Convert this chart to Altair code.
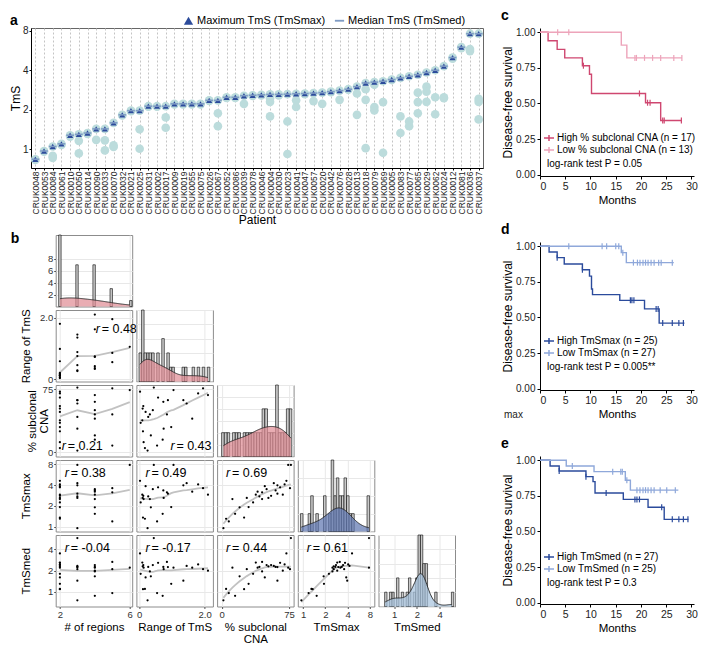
import altair as alt
import pandas as pd
import numpy as np

FONT = "Liberation Sans"

# ---------------- Panel a data ----------------
patients = ["CRUK0048", "CRUK0053", "CRUK0084", "CRUK0061", "CRUK0010", "CRUK0050", "CRUK0014",
            "CRUK0090", "CRUK0033", "CRUK0070", "CRUK0032", "CRUK0021", "CRUK0025", "CRUK0031",
            "CRUK0002", "CRUK0017", "CRUK0009", "CRUK0019", "CRUK0055", "CRUK0075", "CRUK0026",
            "CRUK0067", "CRUK0052", "CRUK0086", "CRUK0039", "CRUK0078", "CRUK0046", "CRUK0004",
            "CRUK0030", "CRUK0023", "CRUK0041", "CRUK0047", "CRUK0057", "CRUK0020", "CRUK0042",
            "CRUK0076", "CRUK0028", "CRUK0013", "CRUK0018", "CRUK0079", "CRUK0069", "CRUK0005",
            "CRUK0083", "CRUK0077", "CRUK0065", "CRUK0029", "CRUK0062", "CRUK0024", "CRUK0012",
            "CRUK0081", "CRUK0036", "CRUK0037"]
region_tms = [
    [0.84, 0.83], [0.97, 0.96], [1.05, 0.89, 0.86], [1.10, 1.08], [1.28, 1.25],
    [1.30, 1.16, 0.93], [1.33, 1.31], [1.43, 1.18], [1.43, 1.17, 0.98], [1.59, 1.07, 1.04],
    [1.83, 1.81], [1.97, 1.95], [1.97, 1.42, 1.01], [2.13, 2.11], [2.13, 2.11],
    [2.13, 1.75, 1.46], [2.22, 2.20], [2.22, 2.20], [2.22, 2.20], [2.22, 2.20],
    [2.36, 2.34], [2.36, 1.88, 1.50], [2.49, 2.46], [2.49, 2.46], [2.56, 2.22],
    [2.58, 2.55], [2.60, 2.57], [2.62, 2.45, 2.30, 1.78], [2.62, 2.57], [2.63, 1.63, 0.92],
    [2.65, 2.36, 2.10], [2.66, 2.63], [2.68, 2.33], [2.70, 2.22], [2.75, 2.72],
    [2.80, 2.38], [2.87, 2.84], [3.00, 2.66, 1.83], [3.20, 2.87, 2.38, 1.02], [3.25, 3.10, 2.10, 1.98],
    [3.30, 2.29, 0.94], [3.40, 3.37], [3.50, 1.78, 1.33], [3.60, 1.63, 1.50], [3.70, 2.70, 2.29, 1.88],
    [3.85, 3.00, 2.75, 2.30], [4.00, 2.49, 1.85], [4.30, 2.49, 2.45], [5.00, 4.90], [6.00, 5.90],
    [7.60, 5.80, 5.60], [7.60, 2.42, 2.30, 1.69]]

# ---------------- Panel b data (one row per patient) ----------------
n_regions = [3, 5, 2, 4, 2, 4, 2, 3, 2, 5, 4, 4, 2, 2, 3, 3, 2, 3, 6, 2, 2, 2, 2, 2, 3, 3, 4, 4, 4, 5]
range_tms = [0.26, 0.55, 0.12, 0.72, 0.98, 0.36, 0.05, 0.28, 0.13, 0.85, 0.74, 0.42, 0.58, 1.80, 1.45,
             1.35, 0.20, 0.45, 1.05, 0.03, 0.10, 0.11, 0.14, 0.18, 0.88, 0.75, 1.62, 2.10, 0.33, 1.95]
pct_cna = [2, 8, 25, 15, 30, 20, 35, 42, 55, 45, 60, 50, 65, 70, 58,
           62, 48, 77, 74, 72, 38, 52, 12, 5, 62, 28, 40, 68, 45, 76]
tms_max = [0.95, 1.19, 1.35, 1.53, 1.92, 1.90, 2.24, 2.73, 2.79, 3.14, 3.34, 3.48, 3.70, 4.08, 4.25,
           3.96, 3.84, 7.80, 7.80, 4.60, 2.90, 2.60, 2.50, 1.30, 3.00, 2.60, 3.20, 2.90, 2.50, 3.60]
tms_med = [0.76, 0.96, 1.09, 0.88, 1.30, 1.66, 1.80, 2.26, 2.40, 2.66, 2.26, 2.40, 2.58, 2.45, 2.33,
           1.44, 1.60, 5.80, 2.20, 3.50, 2.60, 2.30, 2.20, 1.10, 2.25, 2.10, 2.20, 2.00, 1.95, 2.10]
r_labels = {(1, 0): "0.48", (2, 0): "0.21", (2, 1): "0.43", (3, 0): "0.38", (3, 1): "0.49",
            (3, 2): "0.69", (4, 0): "-0.04", (4, 1): "-0.17", (4, 2): "0.44", (4, 3): "0.61"}

# ---------------- Panels c-e data (Kaplan-Meier steps) ----------------
c_hi_t = [0, 1.6, 3.4, 4.9, 8.4, 9.8, 10.2, 20.9, 23.9, 28.1]
c_hi_s = [1.0, 0.94, 0.88, 0.82, 0.765, 0.705, 0.57, 0.505, 0.38, 0.38]
c_hi_ct = [8.6, 19.7, 21.3, 21.8, 24.3, 24.6, 28.0]
c_hi_cs = [0.765, 0.57, 0.505, 0.505, 0.38, 0.38, 0.38]
c_lo_t = [0, 16.1, 17.2, 28.1]
c_lo_s = [1.0, 0.91, 0.82, 0.82]
c_lo_ct = [3.5, 5.7, 18.8, 19.1, 20.7, 22.3, 23.9, 26.5, 28.1]
c_lo_cs = [1.0, 1.0, 0.82, 0.82, 0.82, 0.82, 0.82, 0.82, 0.82]

d_hi_t = [0, 1.8, 3.4, 4.8, 8.4, 9.8, 10.2, 10.4, 15.8, 20.7, 23.6, 28.6]
d_hi_s = [1.0, 0.96, 0.92, 0.875, 0.835, 0.79, 0.70, 0.66, 0.62, 0.56, 0.46, 0.46]
d_hi_ct = [3.4, 8.4, 17.9, 18.2, 18.6, 23.0, 23.4, 24.3, 26.2, 27.5, 28.4]
d_hi_cs = [0.92, 0.835, 0.62, 0.62, 0.62, 0.56, 0.56, 0.46, 0.46, 0.46, 0.46]
d_lo_t = [0, 16.1, 17.1, 26.5]
d_lo_s = [1.0, 0.955, 0.885, 0.885]
d_lo_ct = [5.7, 12.3, 13.2, 15.0, 15.6, 16.4, 18.5, 19.3, 19.8, 20.4, 20.9, 21.4, 22.0, 22.6, 23.5, 24.0, 26.2]
d_lo_cs = [1.0, 1.0, 1.0, 1.0, 1.0, 0.955, 0.885, 0.885, 0.885, 0.885, 0.885, 0.885, 0.885, 0.885,
           0.885, 0.885, 0.885]

e_hi_t = [0, 2.0, 3.8, 9.1, 10.5, 10.9, 16.5, 21.4, 24.6, 29.4]
e_hi_s = [1.0, 0.96, 0.925, 0.885, 0.85, 0.77, 0.725, 0.67, 0.585, 0.585]
e_hi_ct = [3.8, 9.1, 13.1, 18.8, 19.2, 19.7, 24.1, 26.2, 27.5, 28.4, 29.3]
e_hi_cs = [0.925, 0.885, 0.77, 0.725, 0.725, 0.725, 0.67, 0.585, 0.585, 0.585, 0.585]
e_lo_t = [0, 5.2, 10.7, 16.9, 17.9, 27.4]
e_lo_s = [1.0, 0.96, 0.92, 0.86, 0.79, 0.79]
e_lo_ct = [6.4, 14.4, 16.0, 16.3, 17.2, 19.2, 19.8, 20.4, 20.9, 21.4, 22.0, 22.6, 23.8, 25.1, 26.8]
e_lo_cs = [0.96, 0.92, 0.92, 0.92, 0.86, 0.79, 0.79, 0.79, 0.79, 0.79, 0.79, 0.79, 0.79, 0.79, 0.79]

# =====================================================================
NOSTROKE = alt.ViewBackground(stroke="transparent")
BOXSTROKE = alt.ViewBackground(stroke="#8c8c8c", strokeWidth=1)
IND = dict(color="independent", shape="independent")


def letter(txt, x, y):
    return alt.Chart(pd.DataFrame({"t": [txt]})).mark_text(
        text=txt, fontSize=14, fontWeight="bold", align="left", baseline="top", color="black"
    ).encode(x=alt.value(x), y=alt.value(y))


def empty(w, h):
    return alt.Chart(pd.DataFrame({"a": [0]})).mark_point(opacity=0).encode(
        x=alt.value(1), y=alt.value(1)).properties(width=w, height=h, view=NOSTROKE)


# ---------------- Panel a ----------------
MAXLAB = "Maximum TmS (TmSmax)"
MEDLAB = "Median TmS (TmSmed)"
rowsA = [{"patient": p, "tms": v} for p, vals in zip(patients, region_tms) for v in vals]
dfA = pd.DataFrame(rowsA)

xA = alt.X("patient:N", sort=patients, scale=alt.Scale(paddingInner=0, paddingOuter=0),
           axis=alt.Axis(title="Patient", labelAngle=-90, labelFontSize=8.5, labelPadding=1,
                         tickSize=2, grid=True, gridDash=[2, 2], gridColor="#c4c4c4",
                         bandPosition=0.5, titleFontSize=12, titlePadding=1,
                         domainColor="black", tickColor="black", labelColor="#222"))
yScaleA = alt.Scale(type="log", domain=[0.72, 8.4], nice=False)
yAxisA = alt.Axis(values=[1, 2, 4, 8], title="TmS", grid=False, tickSize=2, labelPadding=1,
                  labelFontSize=10, titleFontSize=12, titlePadding=0,
                  domainColor="black", tickColor="black", labelColor="#222")
legA = alt.Legend(title=None, orient="none", legendX=152, legendY=-13, direction="horizontal",
                  labelFontSize=11, symbolSize=85, columnPadding=8, labelOffset=3,
                  labelColor="black", padding=0)
colA = alt.Color("kind:N", scale=alt.Scale(domain=[MAXLAB, MEDLAB], range=["#2c4b9b", "#7f9bc4"]),
                 legend=legA)
shpA = alt.Shape("kind:N", scale=alt.Scale(domain=[MAXLAB, MEDLAB],
                                           range=["triangle-up", "M-1,-0.2H1V0.2H-1Z"]), legend=legA)

circA = alt.Chart(dfA).mark_circle(size=75, color="#bcdcdc", opacity=1).encode(
    x=xA, y=alt.Y("tms:Q", scale=yScaleA, axis=yAxisA))
maxA = alt.Chart(dfA).transform_aggregate(
    v="max(tms)", groupby=["patient"]).transform_calculate(kind=f"'{MAXLAB}'").mark_point(
    filled=True, size=38, opacity=1).encode(x=xA, y=alt.Y("v:Q", scale=yScaleA, axis=yAxisA),
                                             color=colA, shape=shpA)
medA = alt.Chart(dfA).transform_aggregate(
    v="median(tms)", groupby=["patient"]).transform_calculate(kind=f"'{MEDLAB}'").mark_point(
    filled=True, size=60, opacity=1).encode(x=xA, y=alt.Y("v:Q", scale=yScaleA, axis=yAxisA),
                                             color=colA, shape=shpA)
panelA = alt.layer(circA, maxA, medA, letter("a", -21, -14)).properties(
    width=452, height=140, view=alt.ViewBackground(stroke="#666"))

# ---------------- Panel b ----------------
dfB = pd.DataFrame({"regions": n_regions, "range_tms": range_tms, "cna": pct_cna,
                    "tmsmax": tms_max, "tmsmed": tms_med})
VARS = ["regions", "range_tms", "cna", "tmsmax", "tmsmed"]
TITLES = {"regions": "# of regions", "range_tms": "Range of TmS", "cna": ["% subclonal", "CNA"],
          "tmsmax": "TmSmax", "tmsmed": "TmSmed"}
TITLEX = {"range_tms": -24, "cna": -18, "tmsmax": -24, "tmsmed": -24}
DOM = {"regions": [1.76, 6.14], "range_tms": [-0.08, 2.25], "cna": [-5, 80],
       "tmsmax": [0.85, 9.2], "tmsmed": [0.62, 6.4]}
LOG = {"tmsmax", "tmsmed"}
TICKS = {"regions": [2, 3, 4, 5, 6], "range_tms": [0, 0.5, 1, 1.5, 2], "cna": [0, 25, 50, 75],
         "tmsmax": [1, 2, 4, 8], "tmsmed": [1, 2, 4]}
LABEXPR = {"range_tms": "datum.value == 0 ? '0' : format(datum.value, '.1f')"}
BINSTEP = {"regions": 0.14, "range_tms": 0.077, "cna": 3.0, "tmsmax": 0.115, "tmsmed": 0.105}
BINANCHOR = {"regions": 1.93, "range_tms": 0.0, "cna": 0.0, "tmsmax": 0.0, "tmsmed": 0.0}
BW = {"regions": 0.9, "range_tms": 0.25, "cna": 12, "tmsmax": 0.45, "tmsmed": 0.25}
DFRAC = {"regions": 0.12, "range_tms": 0.31, "cna": 0.42, "tmsmax": 0.33, "tmsmed": 0.46}
DCOL = {"regions": "#e08e96", "range_tms": "#e08e96", "cna": "#e08e96", "tmsmax": "#5f77b2",
        "tmsmed": "#a8c3de"}
CW, CH = 76.5, 71.5


def sc(v):
    if v in LOG:
        return alt.Scale(type="log", domain=DOM[v], nice=False)
    return alt.Scale(domain=DOM[v], nice=False, zero=False)


def axis_for(v, show, title, orient):
    kw = dict(values=TICKS[v], grid=True, gridColor="#e8e8e8", domain=False, tickColor="#555",
              labelColor="#333", labelFontSize=9.5, labelOverlap=False)
    if v in LABEXPR:
        kw["labelExpr"] = LABEXPR[v]
    if show:
        kw.update(labels=True, ticks=True, tickSize=2, labelPadding=1, title=title, titleFontSize=11.5,
                  titleColor="black", titleLineHeight=12)
        if orient == "y":
            kw.update(titleX=TITLEX[v], titleBaseline="bottom", titleAnchor="middle")
        else:
            kw.update(titlePadding=2)
    else:
        kw.update(labels=False, ticks=False, title=None)
    return alt.Axis(**kw)


def kde_peak(vals, bw):
    vals = np.asarray(vals, float)
    g = np.linspace(vals.min() - 3 * bw, vals.max() + 3 * bw, 400)
    d = np.exp(-0.5 * ((g[:, None] - vals[None, :]) / bw) ** 2).sum(1) / (len(vals) * bw * np.sqrt(2 * np.pi))
    return d.max()


def diag_cell(i):
    v = VARS[i]
    show_y = (i == 0)
    show_x = (i == 4)
    base = alt.Chart(dfB)
    if v in LOG:
        lexpr = f"log(datum.{v})/LN2"
        back0, back1 = "pow(2, datum.lb0)", "pow(2, datum.lb1)"
        tv = np.log2(dfB[v].values)
    else:
        lexpr = f"datum.{v}"
        back0, back1 = "datum.lb0", "datum.lb1"
        tv = dfB[v].values.astype(float)
    ext = [float(np.floor((tv.min() - BINANCHOR[v]) / BINSTEP[v]) * BINSTEP[v] + BINANCHOR[v]),
           float(np.ceil((tv.max() - BINANCHOR[v]) / BINSTEP[v] + 1e-9) * BINSTEP[v] + BINANCHOR[v])]
    hist = base.transform_calculate(lv=lexpr).transform_bin(
        ["lb0", "lb1"], field="lv", bin=alt.Bin(step=BINSTEP[v], extent=ext, nice=False)).transform_aggregate(
        n="count()", groupby=["lb0", "lb1"]).transform_calculate(b0=back0, b1=back1)
    dens = base.transform_calculate(lv=lexpr).transform_density(
        "lv", bandwidth=BW[v], extent=[float(tv.min()), float(tv.max())], steps=120,
        as_=["lx", "dens"]).transform_calculate(x=back0.replace("lb0", "lx"))
    peak = kde_peak(tv, BW[v])
    xenc = alt.X("b0:Q", scale=sc(v), axis=axis_for(v, show_x, TITLES[v], "x"))
    if show_y:
        yax = alt.Axis(values=[2, 4, 6, 8], grid=True, gridColor="#e8e8e8", domain=False, tickSize=2,
                       tickColor="#555", labelColor="#333", labelFontSize=9.5, labelPadding=1, title=None)
    else:
        yax = alt.Axis(grid=True, gridColor="#e8e8e8", domain=False, labels=False, ticks=False,
                       title=None, tickCount=5)
    bars = hist.mark_rect(fill="#c9c9c9", stroke="black", strokeWidth=0.6).encode(
        x=xenc, x2="b1:Q", y=alt.Y("n:Q", axis=yax, scale=alt.Scale(nice=False, zero=True)),
        y2=alt.datum(0))
    dscale = alt.Scale(domain=[0, peak / DFRAC[v]], nice=False, zero=True)
    area = dens.mark_area(color=DCOL[v], opacity=0.72).encode(
        x=alt.X("x:Q", scale=sc(v)), y=alt.Y("dens:Q", scale=dscale, axis=None))
    line = dens.mark_line(color="#222", strokeWidth=0.9).encode(
        x=alt.X("x:Q", scale=sc(v)), y=alt.Y("dens:Q", scale=dscale, axis=None))
    layers = [bars, area, line]
    if i == 0:
        layers.append(letter("b", -45, -3))
    return alt.layer(*layers).resolve_scale(y="independent").properties(width=CW, height=CH, view=BOXSTROKE)


RPOS = {(1, 0): (40, 19), (2, 0): (6, 61), (2, 1): (34, 61)}


def off_cell(i, j):
    vx, vy = VARS[j], VARS[i]
    base = alt.Chart(dfB)
    xenc = alt.X(f"{vx}:Q", scale=sc(vx), axis=axis_for(vx, i == 4, TITLES[vx], "x"))
    yenc = alt.Y(f"{vy}:Q", scale=sc(vy), axis=axis_for(vy, j == 0, TITLES[vy], "y"))
    pts = base.mark_circle(size=5, color="black", opacity=1).encode(x=xenc, y=yenc)
    loess = base.transform_loess(vx, vy, bandwidth=0.7).mark_line(color="#c2c2c2", strokeWidth=1.8).encode(
        x=alt.X(f"{vx}:Q", scale=sc(vx)), y=alt.Y(f"{vy}:Q", scale=sc(vy)))
    rx, ry = RPOS.get((i, j), (9, 13))
    rt = alt.Chart(pd.DataFrame({"t": ["r"]})).mark_text(
        text="r", fontSize=12.5, fontStyle="italic", align="left", baseline="middle", color="black"
    ).encode(x=alt.value(rx), y=alt.value(ry))
    vt = alt.Chart(pd.DataFrame({"t": ["v"]})).mark_text(
        text="= " + r_labels[(i, j)], fontSize=12.5, align="left", baseline="middle", color="black"
    ).encode(x=alt.value(rx + 6), y=alt.value(ry))
    return alt.layer(loess, pts, rt, vt).properties(width=CW, height=CH, view=BOXSTROKE)


cells = []
for i in range(5):
    cells.append(empty(20.3, CH))
    for j in range(5):
        if j == i:
            cells.append(diag_cell(i))
        elif j < i:
            cells.append(off_cell(i, j))
        else:
            cells.append(empty(CW, CH))
gridB = alt.concat(*cells, columns=6, spacing={"row": 3, "column": 3.7}, bounds="flush")


# ---------------- Panels c-e ----------------
def km(letter_txt, hi_lab, lo_lab, hi_t, hi_s, hi_ct, hi_cs, lo_t, lo_s, lo_ct, lo_cs,
       c_hi, c_lo, pval, legY, extra=None):
    lines = pd.DataFrame({"t": hi_t + lo_t, "s": hi_s + lo_s,
                          "g": [hi_lab] * len(hi_t) + [lo_lab] * len(lo_t)})
    cens = pd.DataFrame({"t": hi_ct + lo_ct, "s": hi_cs + lo_cs,
                         "g": [hi_lab] * len(hi_ct) + [lo_lab] * len(lo_ct)})
    xs = alt.Scale(domain=[0, 30.5], nice=False)
    ys = alt.Scale(domain=[-0.01, 1.03], nice=False)
    xax = alt.Axis(values=[0, 5, 10, 15, 20, 25, 30], title="Months", grid=False, domainColor="black",
                   tickColor="black", labelColor="#222", labelFontSize=10.5, titleFontSize=11.5,
                   tickSize=3, labelPadding=2, titlePadding=3)
    yax = alt.Axis(values=[0, 0.25, 0.5, 0.75, 1.0], format=".2f", title="Disease-free survival",
                   grid=False, domainColor="black", tickColor="black", labelColor="#222",
                   labelFontSize=10, titleFontSize=12, tickSize=3, labelPadding=2,
                   titleX=-25.5, titleBaseline="bottom")
    leg = alt.Legend(title=None, orient="none", legendX=3, legendY=legY, labelFontSize=10,
                     symbolType="M-1,0H1M0,-0.6V0.6", symbolSize=100, symbolStrokeWidth=1.5,
                     symbolFillColor="transparent", rowPadding=0, labelColor="black", labelOffset=2,
                     padding=0)
    col = alt.Color("g:N", scale=alt.Scale(domain=[hi_lab, lo_lab], range=[c_hi, c_lo]), legend=leg)
    ln = alt.Chart(lines).mark_line(interpolate="step-after", strokeWidth=1.4).encode(
        x=alt.X("t:Q", scale=xs, axis=xax), y=alt.Y("s:Q", scale=ys, axis=yax), color=col,
        detail="g:N")
    ce = alt.Chart(cens).mark_point(shape="M0,-1V1", size=36, filled=False, strokeWidth=1.2,
                                    opacity=1).encode(
        x=alt.X("t:Q", scale=xs, axis=xax), y=alt.Y("s:Q", scale=ys, axis=yax), color=col)
    pv = alt.Chart(pd.DataFrame({"t": [pval]})).mark_text(
        text=pval, fontSize=10, align="left", baseline="middle", color="black"
    ).encode(x=alt.value(7), y=alt.value(legY + 32))
    layers = [ln, ce, pv, letter(letter_txt, -39, -19)]
    if extra is not None:
        layers.append(extra)
    return alt.layer(*layers).properties(width=154, height=148, view=NOSTROKE)


maxnote = alt.Chart(pd.DataFrame({"t": ["max"]})).mark_text(
    text="max", fontSize=10, align="left", baseline="middle", color="#222"
).encode(x=alt.value(-36), y=alt.value(173))

panelC = km("c", "High % subclonal CNA (n = 17)", "Low % subclonal CNA (n = 13)",
            c_hi_t, c_hi_s, c_hi_ct, c_hi_cs, c_lo_t, c_lo_s, c_lo_ct, c_lo_cs,
            "#cf4770", "#eda4ba", "log-rank test P = 0.05", 104)
panelD = km("d", "High TmSmax (n = 25)", "Low TmSmax (n = 27)",
            d_hi_t, d_hi_s, d_hi_ct, d_hi_cs, d_lo_t, d_lo_s, d_lo_ct, d_lo_cs,
            "#2b4b9c", "#8fa8da", "log-rank test P = 0.005**", 93, extra=maxnote)
panelE = km("e", "High TmSmed (n = 27)", "Low TmSmed (n = 25)",
            e_hi_t, e_hi_s, e_hi_ct, e_hi_cs, e_lo_t, e_lo_s, e_lo_ct, e_lo_cs,
            "#2b4b9c", "#8fa8da", "log-rank test P = 0.3", 95)

left = alt.vconcat(panelA, gridB, spacing=4).resolve_scale(**IND)
right = alt.vconcat(panelC, panelD, panelE, spacing=15).resolve_scale(**IND)

chart = alt.hconcat(left, right, spacing=16).resolve_scale(**IND).properties(padding=0).configure(
    font=FONT).configure_axis(labelFont=FONT, titleFont=FONT, titleFontWeight="normal").configure_legend(
    labelFont=FONT).configure_text(font=FONT)

chart.save("out.html", embed_options={"renderer": "svg", "actions": False})
